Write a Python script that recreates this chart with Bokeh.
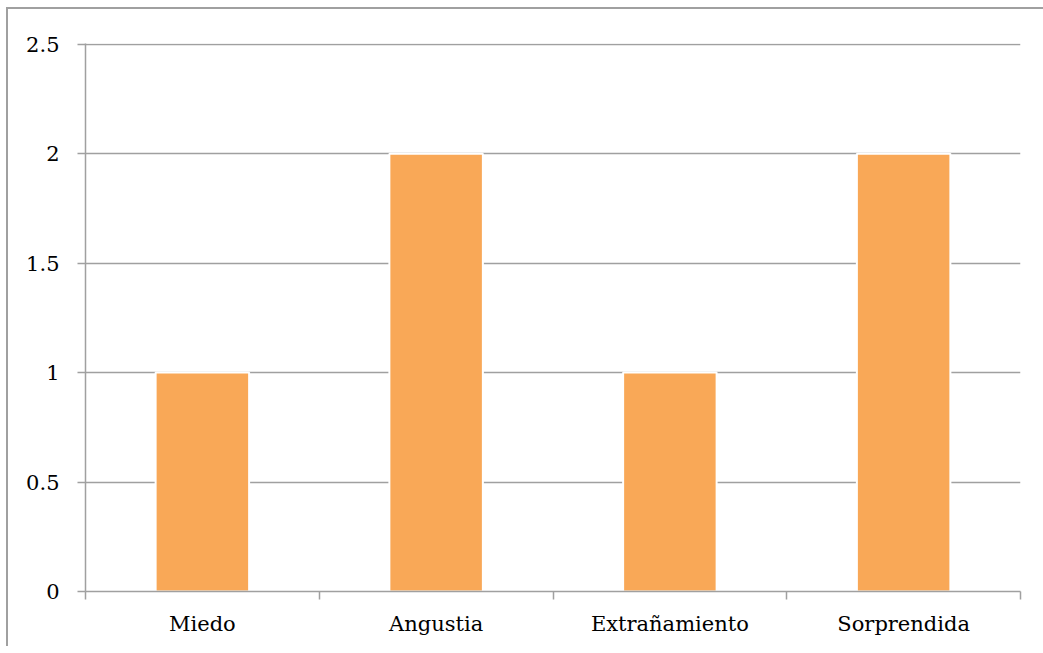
from bokeh.plotting import figure
from bokeh.models import FixedTicker, Range1d, ColumnDataSource
from bokeh.embed import file_html
from bokeh.resources import INLINE

categories = ["Miedo", "Angustia", "Extrañamiento", "Sorprendida"]
values = [1, 2, 1, 2]
y_ticks = [0, 0.5, 1, 1.5, 2, 2.5]
y_tick_labels = ["0", "0.5", "1", "1.5", "2", "2.5"]

xs = [i + 0.5 for i in range(len(categories))]
src = ColumnDataSource(dict(x=xs, top=values))

FONT = "DejaVu Serif"
GRAY = "#a0a0a0"

p = figure(width=1035, height=644, output_backend="svg", toolbar_location=None,
           x_range=Range1d(0, len(categories)), y_range=Range1d(0, 2.503),
           min_border_left=77, min_border_top=34, min_border_right=23, min_border_bottom=55)
p.frame_width = 935
p.frame_height = 548
p.outline_line_color = None
p.styles = {"margin-left": "6px", "margin-top": "7px",
            "border-left": "2px solid #a0a0a0", "border-top": "2px solid #a0a0a0"}

p.vbar(x="x", top="top", width=0.4, source=src, fill_color="#F9A857",
       line_color="white", line_width=2)

# y axis
p.yaxis.ticker = FixedTicker(ticks=y_ticks)
p.yaxis.major_label_overrides = {t: l for t, l in zip(y_ticks, y_tick_labels)}
p.yaxis.major_tick_out = 8
p.yaxis.major_tick_in = 0
p.yaxis.minor_tick_out = 0
p.yaxis.minor_tick_in = 0
p.yaxis.major_tick_line_color = GRAY
p.yaxis.major_tick_line_width = 1.5
p.yaxis.axis_line_color = GRAY
p.yaxis.axis_line_width = 1.5
p.yaxis.major_label_standoff = 18
p.yaxis.major_label_text_font = FONT
p.yaxis.major_label_text_font_size = "21px"
p.yaxis.major_label_text_color = "black"

# x axis
p.xaxis.ticker = FixedTicker(ticks=xs, minor_ticks=list(range(len(categories) + 1)))
p.xaxis.major_label_overrides = {x: c for x, c in zip(xs, categories)}
p.xaxis.major_tick_out = 0
p.xaxis.major_tick_in = 0
p.xaxis.minor_tick_out = 8
p.xaxis.minor_tick_in = 0
p.xaxis.minor_tick_line_color = GRAY
p.xaxis.minor_tick_line_width = 1.5
p.xaxis.axis_line_color = GRAY
p.xaxis.axis_line_width = 1.5
p.xaxis.major_label_standoff = 12
p.xaxis.major_label_text_font = FONT
p.xaxis.major_label_text_font_size = "21px"
p.xaxis.major_label_text_color = "black"

p.xgrid.grid_line_color = None
p.ygrid.grid_line_color = GRAY
p.ygrid.grid_line_width = 1.5

open("out.html", "w").write(file_html(p, INLINE))
